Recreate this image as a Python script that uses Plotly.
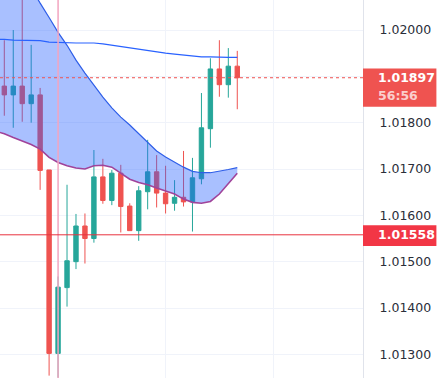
import plotly.graph_objects as go

# ---- data ----
candle_index = list(range(27))
open_ = [1.01879, 1.01860, 1.01879, 1.01841, 1.01860, 1.01698, 1.01302, 1.01444, 1.01500, 1.01577,
         1.01550, 1.01683, 1.01632, 1.01691, 1.01620, 1.01567, 1.01651, 1.01694, 1.01648, 1.01626,
         1.01639, 1.01629, 1.01679, 1.01787, 1.01916, 1.01882, 1.01922]
high = [1.01978, 1.02000, 1.02080, 1.01968, 1.01875, 1.01698, 1.01468, 1.01666, 1.01603, 1.01604,
        1.01741, 1.01722, 1.01698, 1.01709, 1.01626, 1.01663, 1.01763, 1.01730, 1.01707, 1.01676,
        1.01739, 1.01724, 1.01864, 1.01939, 1.01978, 1.01961, 1.01955]
low = [1.01815, 1.01789, 1.01802, 1.01800, 1.01655, 1.01254, 1.01250, 1.01403, 1.01484, 1.01496,
       1.01541, 1.01625, 1.01622, 1.01563, 1.01567, 1.01545, 1.01613, 1.01617, 1.01604, 1.01610,
       1.01619, 1.01565, 1.01667, 1.01746, 1.01856, 1.01854, 1.01829]
close = [1.01860, 1.01879, 1.01841, 1.01860, 1.01697, 1.01302, 1.01445, 1.01502, 1.01577, 1.01550,
         1.01683, 1.01632, 1.01691, 1.01619, 1.01567, 1.01653, 1.01694, 1.01648, 1.01625, 1.01639,
         1.01629, 1.01681, 1.01789, 1.01916, 1.01882, 1.01922, 1.01897]

band_index = list(range(-1, 27))
upper_band = [1.02221, 1.02188, 1.02155, 1.02123, 1.02091, 1.02058, 1.02027, 1.01995, 1.01967, 1.01935,
              1.01907, 1.01880, 1.01855, 1.01832, 1.01812, 1.01795, 1.01776, 1.01756, 1.01739, 1.01726,
              1.01715, 1.01704, 1.01695, 1.01692, 1.01692, 1.01695, 1.01699, 1.01703]
lower_band = [1.01782, 1.01776, 1.01768, 1.01760, 1.01753, 1.01743, 1.01725, 1.01714, 1.01707, 1.01702,
              1.01700, 1.01707, 1.01708, 1.01704, 1.01691, 1.01678, 1.01671, 1.01666, 1.01659, 1.01653,
              1.01646, 1.01635, 1.01628, 1.01626, 1.01630, 1.01646, 1.01668, 1.01691]
ma_line = [1.01980, 1.01980, 1.01978, 1.01978, 1.01978, 1.01977, 1.01974, 1.01973, 1.01973, 1.01972,
           1.01972, 1.01972, 1.01970, 1.01967, 1.01964, 1.01961, 1.01958, 1.01956, 1.01953, 1.01950,
           1.01948, 1.01946, 1.01944, 1.01942, 1.01942, 1.01941, 1.01941, 1.01941]

y_tick_values = [1.013, 1.014, 1.015, 1.016, 1.017, 1.018, 1.019, 1.020]
# the 1.01900 label is hidden behind the last-price tag in the reference
y_tick_labels = ["1.01300", "1.01400", "1.01500", "1.01600", "1.01700", "1.01800", "", "1.02000"]
x_grid_index = [6, 18, 30]
marker_index = 6
last_price = 1.01897
last_price_text = "1.01897"
countdown_text = "56:56"
level_price = 1.01558
level_text = "1.01558"

Y_RANGE = [1.012489, 1.020648]
X_RANGE = [-0.48, 40.03]

UP = "#26a69a"
DOWN = "#ef5350"
FONT = "DejaVu Sans"

fig = go.Figure()

# cloud / band
fig.add_trace(go.Scatter(x=band_index, y=upper_band, mode="lines",
                         line=dict(color="#2e5ee8", width=1.2), hoverinfo="skip", showlegend=False))
fig.add_trace(go.Scatter(x=band_index, y=lower_band, mode="lines", fill="tonexty",
                         fillcolor="rgba(41,98,255,0.4)",
                         line=dict(color="#a0439a", width=1.6), hoverinfo="skip", showlegend=False))
fig.add_trace(go.Scatter(x=band_index, y=ma_line, mode="lines",
                         line=dict(color="#2962ff", width=1.2), hoverinfo="skip", showlegend=False))

# vertical marker line
fig.add_trace(go.Scatter(x=[marker_index, marker_index], y=Y_RANGE, mode="lines",
                         line=dict(color="#f4a6c0", width=1.5), hoverinfo="skip", showlegend=False))

fig.add_trace(go.Candlestick(
    x=candle_index, open=open_, high=high, low=low, close=close,
    increasing=dict(line=dict(color=UP, width=1), fillcolor=UP),
    decreasing=dict(line=dict(color=DOWN, width=1), fillcolor=DOWN),
    whiskerwidth=0, showlegend=False))

shapes = [
    dict(type="line", xref="paper", x0=0, x1=1, yref="y", y0=last_price, y1=last_price,
         line=dict(color=DOWN, width=1, dash="dot"), layer="above"),
    dict(type="line", xref="paper", x0=0, x1=1, yref="y", y0=level_price, y1=level_price,
         line=dict(color="#e8323f", width=1), layer="above"),
    dict(type="rect", xref="paper", x0=1.0, x1=1.2022, yref="y", ysizemode="pixel",
         yanchor=last_price, y0=-29, y1=9.3, fillcolor=DOWN, line=dict(width=0), layer="above"),
    dict(type="rect", xref="paper", x0=1.0, x1=1.2022, yref="y", ysizemode="pixel",
         yanchor=level_price, y0=-11.3, y1=9.5, fillcolor="#f23645", line=dict(width=0), layer="above"),
]

annotations = [
    dict(xref="paper", x=1.037, xanchor="left", yref="y", y=last_price, yanchor="middle",
         text="<b>" + last_price_text + "</b>", showarrow=False,
         font=dict(family=FONT, size=12.5, color="white")),
    dict(xref="paper", x=1.037, xanchor="left", yref="y", y=last_price, yanchor="middle", yshift=-18,
         text="<b>" + countdown_text + "</b>", showarrow=False,
         font=dict(family=FONT, size=12.5, color="rgba(255,255,255,0.72)")),
    dict(xref="paper", x=1.037, xanchor="left", yref="y", y=level_price, yanchor="middle",
         text="<b>" + level_text + "</b>", showarrow=False,
         font=dict(family=FONT, size=12.5, color="white")),
]

fig.update_layout(
    width=439, height=378,
    margin=dict(l=0, r=76, t=0, b=0, pad=0, autoexpand=False),
    paper_bgcolor="white", plot_bgcolor="white",
    showlegend=False,
    shapes=shapes, annotations=annotations,
    xaxis=dict(range=X_RANGE, tickvals=x_grid_index, showticklabels=False, showgrid=True,
               gridcolor="#f0f3fa", gridwidth=1, zeroline=False, showline=False, automargin=False,
               rangeslider=dict(visible=False), fixedrange=True),
    yaxis=dict(range=Y_RANGE, side="right", tickvals=y_tick_values, ticktext=y_tick_labels,
               showgrid=True, gridcolor="#f0f3fa", gridwidth=1, zeroline=False, automargin=False,
               showline=True, linecolor="#e0e3eb", linewidth=1, ticks="",
               ticklabelstandoff=13,
               tickfont=dict(family=FONT, size=12.5, color="#2a2e39"), fixedrange=True),
)

fig.write_html("out.html", config=dict(displayModeBar=False),
               post_script="document.body.style.margin='0';document.body.style.overflow='hidden';")
